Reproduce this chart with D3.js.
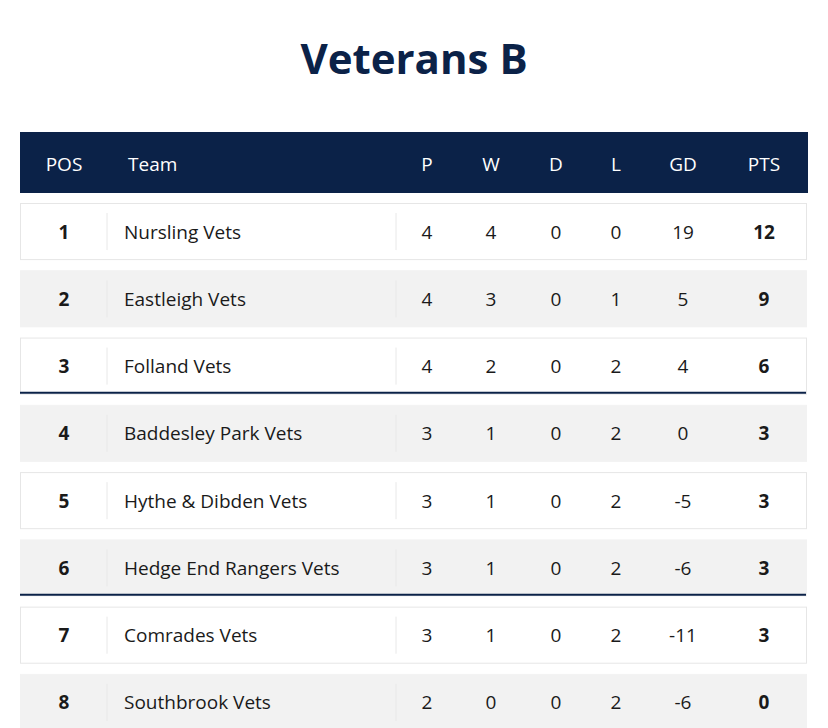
<!DOCTYPE html><html><head><meta charset="utf-8"><script src="https://cdn.jsdelivr.net/npm/d3@7"></script>
<style>body{margin:0;background:#fff;font-family:"Open Sans",sans-serif}</style></head><body><svg id="c" width="828" height="728"></svg>
<script>
const columns=["POS","Team","P","W","D","L","GD","PTS"];
const positions=[1,2,3,4,5,6,7,8];
const teams=["Nursling Vets","Eastleigh Vets","Folland Vets","Baddesley Park Vets","Hythe & Dibden Vets","Hedge End Rangers Vets","Comrades Vets","Southbrook Vets"];
const played=[4,4,4,3,3,3,3,2];
const won=[4,3,2,1,1,1,1,0];
const drawn=[0,0,0,0,0,0,0,0];
const lost=[0,1,2,2,2,2,2,2];
const gd=[19,5,4,0,-5,-6,-11,-6];
const pts=[12,9,6,3,3,3,3,0];
const separatorsAfter=[3,6];

const svg=d3.select("#c");
const navy="#0b2248";
svg.append("text").attr("x",414).attr("y",74).attr("text-anchor","middle").attr("font-size",42).attr("font-weight",700).attr("fill",navy).text("Veterans B");
svg.append("rect").attr("x",20).attr("y",132).attr("width",788).attr("height",61).attr("fill",navy);
const colX={POS:64,Team:128,P:427,W:491,D:556,L:616,GD:683,PTS:764};
columns.forEach(c=>svg.append("text").attr("x",colX[c]).attr("y",171).attr("text-anchor",c==="Team"?"start":"middle").attr("font-size",19).attr("fill","#fff").text(c));
const y=d3.scaleBand().domain(d3.range(8)).range([203,203+66*8]).paddingInner(10/66).paddingOuter(0);
const rows=svg.selectAll("g.r").data(d3.range(8)).join("g").attr("transform",i=>`translate(0,${y(i)})`);
const h=y.bandwidth();
rows.append("rect").attr("x",20.5).attr("y",0.5).attr("width",786).attr("height",h-1).attr("fill",i=>i%2?"#f2f2f2":"#fff").attr("stroke",i=>i%2?"#f2f2f2":"#e6e6e6");
rows.append("line").attr("x1",107).attr("x2",107).attr("y1",10).attr("y2",h-10).attr("stroke","#e8e8e8");
rows.append("line").attr("x1",396).attr("x2",396).attr("y1",10).attr("y2",h-10).attr("stroke","#e8e8e8");
const vals=i=>[positions[i],teams[i],played[i],won[i],drawn[i],lost[i],gd[i],pts[i]];
rows.each(function(i){const g=d3.select(this);vals(i).forEach((v,k)=>{const c=columns[k];
g.append("text").attr("x",c==="Team"?124:colX[c]).attr("y",h/2+7).attr("text-anchor",c==="Team"?"start":"middle").attr("font-size",19).attr("font-weight",(c==="POS"||c==="PTS")?700:400).attr("fill","#1a1a1a").text(v);});});
separatorsAfter.forEach(s=>svg.append("line").attr("x1",20).attr("x2",806).attr("y1",y(s)-12).attr("y2",y(s)-12).attr("stroke",navy).attr("stroke-width",2));
</script></body></html>
